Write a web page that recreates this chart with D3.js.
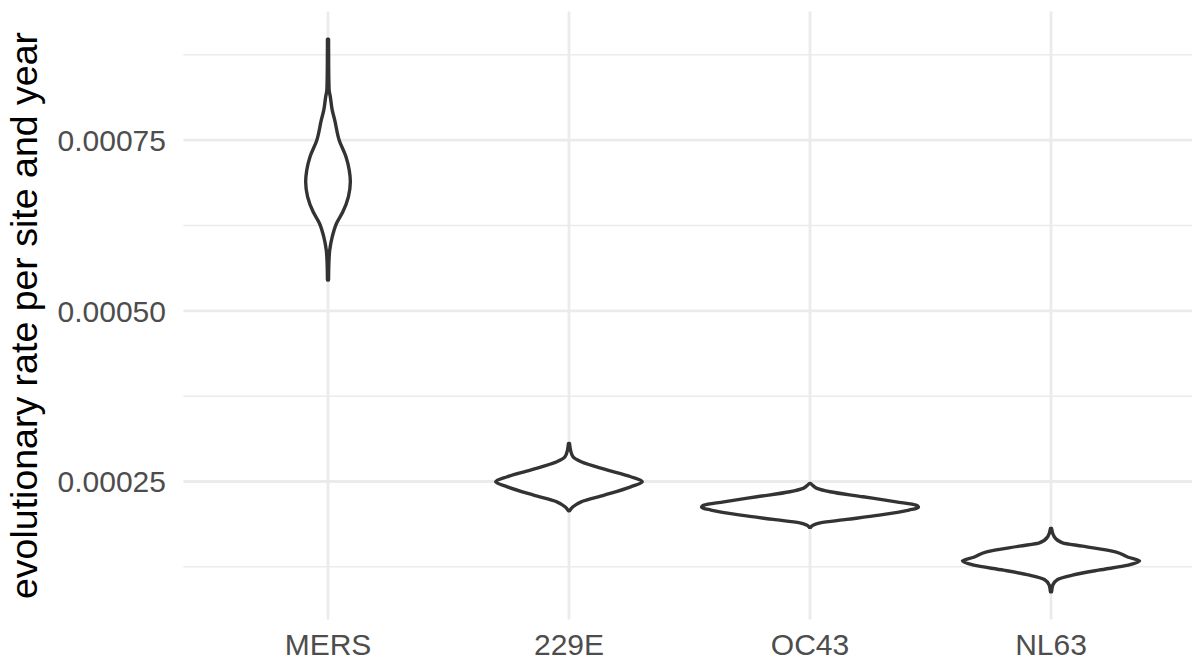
<!DOCTYPE html>
<html>
<head>
<meta charset="utf-8">
<script src="https://cdn.jsdelivr.net/npm/d3@7"></script>
<style>
  html, body { margin: 0; padding: 0; background: #ffffff; }
  svg { display: block; }
  text { font-family: "Liberation Sans", Arial, Helvetica, sans-serif; }
</style>
</head>
<body>
<svg id="chart" width="1192" height="666"></svg>
<script>
// Virus groups along the x axis
const categories = ["MERS", "229E", "OC43", "NL63"];

// Estimated kernel density of the posterior evolutionary rate for each group:
// [rate per site and year, relative density]
const mersDensity = [
  [0.000898, 0.005], [0.000860, 0.006], [0.000824, 0.010], [0.000814, 0.021],
  [0.000794, 0.039], [0.000780, 0.061], [0.000750, 0.103], [0.000726, 0.165],
  [0.000706, 0.196], [0.000689, 0.206], [0.000667, 0.188], [0.000645, 0.137],
  [0.000628, 0.078], [0.000609, 0.040], [0.000589, 0.016], [0.000570, 0.008],
  [0.000545, 0.005]
];
const hcov229eDensity = [
  [0.0003058, 0.005], [0.0002960, 0.014], [0.0002862, 0.037], [0.0002789, 0.112],
  [0.0002667, 0.356], [0.0002569, 0.569], [0.0002495, 0.676], [0.0002422, 0.569],
  [0.0002300, 0.326], [0.0002202, 0.112], [0.0002129, 0.037], [0.0002070, 0.005]
];
const oc43Density = [
  [0.0002472, 0.005], [0.0002440, 0.027], [0.0002399, 0.064], [0.0002349, 0.185],
  [0.0002276, 0.490], [0.0002202, 0.795], [0.0002154, 0.977], [0.0002120, 1.000],
  [0.0002081, 0.913], [0.0002007, 0.639], [0.0001944, 0.338], [0.0001894, 0.094],
  [0.0001860, 0.027], [0.0001827, 0.005]
];
const nl63Density = [
  [0.0001812, 0.005], [0.0001690, 0.030], [0.0001601, 0.107], [0.0001553, 0.290],
  [0.0001470, 0.594], [0.0001390, 0.712], [0.0001337, 0.817], [0.0001274, 0.712],
  [0.0001201, 0.438], [0.0001128, 0.198], [0.0001065, 0.061], [0.0000981, 0.016],
  [0.0000883, 0.005]
];
const densities = [mersDensity, hcov229eDensity, oc43Density, nl63Density];

// Axis ticks
const majorTicks = [0.00025, 0.00050, 0.00075];
const minorTicks = [0.000125, 0.000375, 0.000625, 0.000875];
const yTitle = "evolutionary rate per site and year";

// Panel geometry
const panel = { left: 183.4, right: 1195.6, top: 11.5, bottom: 619.5 };

const svg = d3.select("#chart");

const x = d3.scalePoint()
  .domain(categories)
  .range([panel.left, panel.right])
  .padding(0.6);

// Continuous scale with 5% expansion around the data range
const allRates = densities.flat().map(d => d[0]);
const [lo, hi] = d3.extent(allRates);
const pad = (hi - lo) * 0.05;
const y = d3.scaleLinear()
  .domain([lo - pad, hi + pad])
  .range([panel.bottom, panel.top]);

const maxDensity = d3.max(densities.flat(), d => d[1]);
const halfWidth = d3.scaleLinear()
  .domain([0, maxDensity])
  .range([0, x.step() * 0.45]);

// Grid
const grid = svg.append("g");
grid.selectAll("line.minor")
  .data(minorTicks)
  .join("line")
  .attr("x1", panel.left).attr("x2", panel.right)
  .attr("y1", d => y(d)).attr("y2", d => y(d))
  .attr("stroke", "#EBEBEB").attr("stroke-width", 1.5);
grid.selectAll("line.majorY")
  .data(majorTicks)
  .join("line")
  .attr("x1", panel.left).attr("x2", panel.right)
  .attr("y1", d => y(d)).attr("y2", d => y(d))
  .attr("stroke", "#EBEBEB").attr("stroke-width", 2.8);
grid.selectAll("line.majorX")
  .data(categories)
  .join("line")
  .attr("x1", d => x(d)).attr("x2", d => x(d))
  .attr("y1", panel.top).attr("y2", panel.bottom)
  .attr("stroke", "#EBEBEB").attr("stroke-width", 2.8);

// Violins
const violin = (cx) => d3.area()
  .y(d => y(d[0]))
  .x0(d => cx - halfWidth(d[1]))
  .x1(d => cx + halfWidth(d[1]))
  .curve(d3.curveMonotoneY);

svg.append("g")
  .selectAll("path")
  .data(categories.map((c, i) => ({ c, pts: densities[i] })))
  .join("path")
  .attr("d", d => violin(x(d.c))(d.pts))
  .attr("fill", "#ffffff")
  .attr("stroke", "#333333")
  .attr("stroke-width", 3.4)
  .attr("stroke-linejoin", "round");

// Y axis labels
svg.append("g")
  .selectAll("text")
  .data(majorTicks)
  .join("text")
  .attr("x", 166)
  .attr("y", d => y(d))
  .attr("dy", "0.36em")
  .attr("text-anchor", "end")
  .attr("font-size", 30)
  .attr("fill", "#4D4D4D")
  .text(d3.format(".5f"));

// X axis labels
svg.append("g")
  .selectAll("text")
  .data(categories)
  .join("text")
  .attr("x", d => x(d))
  .attr("y", 655)
  .attr("text-anchor", "middle")
  .attr("font-size", 30)
  .attr("fill", "#4D4D4D")
  .text(d => d);

// Y axis title
svg.append("text")
  .attr("transform", `translate(37,${(panel.top + panel.bottom) / 2}) rotate(-90)`)
  .attr("text-anchor", "middle")
  .attr("font-size", 37.5)
  .attr("fill", "#000000")
  .text(yTitle);
</script>
</body>
</html>
